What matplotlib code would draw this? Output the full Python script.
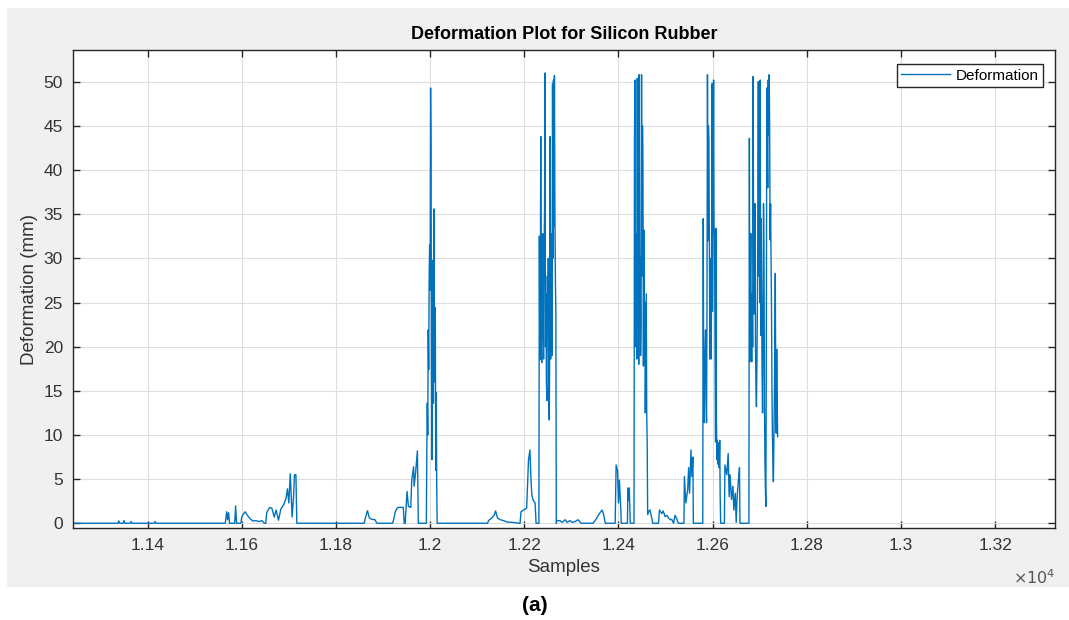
import numpy as np
import matplotlib
matplotlib.use("Agg")
import matplotlib.pyplot as plt

plt.rcParams['font.family'] = ['Liberation Sans', 'DejaVu Sans']

# sample index / deformation (mm)
base_x = [11242, 11337, 11339, 11341, 11348, 11350, 11352, 11363, 11365, 11367, 11414, 11416, 11418, 11563]
base_y = [0, 0, 0.26, 0, 0, 0.3, 0, 0, 0.2, 0, 0, 0.2, 0, 0]

pre116_x = [11565, 11568, 11570, 11572, 11574, 11585, 11587, 11589, 11598, 11600, 11603, 11607, 11612,
            11618, 11624, 11630, 11636, 11643, 11648, 11651, 11653, 11656, 11660, 11664, 11669, 11673,
            11678, 11683, 11689, 11694, 11697, 11700, 11703, 11707, 11710, 11712, 11715, 11717]
pre116_y = [0, 1.3, 0.4, 1.2, 0, 0, 1.96, 0, 0, 0.7, 1.0, 1.3, 0.9,
            0.5, 0.25, 0.3, 0.2, 0.3, 0, 0, 1.2, 1.5, 1.8, 1.7, 0.7, 1.5,
            0.35, 1.6, 2.1, 2.8, 3.9, 2.3, 5.6, 0.7, 3.0, 5.5, 5.5, 0]

pre120_x = [11860, 11862, 11867, 11871, 11876, 11883, 11887, 11920, 11922, 11926, 11930, 11933, 11943,
            11945, 11947, 11951, 11954, 11959, 11961, 11965, 11966, 11969, 11973, 11975, 11991]
pre120_y = [0, 0.5, 1.43, 0.6, 0.45, 0.4, 0, 0, 0.3, 1.3, 1.7, 1.8, 1.8,
            0, 0, 3.6, 1.9, 1.8, 4.9, 6.4, 4.2, 5.6, 8.2, 0, 0]

spike120_x = [11992, 11993, 11994, 11995, 11996, 11997, 11998, 11999, 12000, 12001, 12002, 12003, 12004,
              12005, 12006, 12007, 12008, 12009, 12010, 12011, 12012, 12013, 12014, 12015]
spike120_y = [0, 8.1, 13.6, 10, 21.9, 17.4, 28, 31.5, 26.4, 49.3, 42.3, 17.4, 7.2,
              22, 29.8, 13.6, 35.6, 16, 20.4, 24.4, 6.0, 14.8, 4.5, 0]

mid122_x = [12122, 12124, 12131, 12136, 12139, 12143, 12149, 12156, 12163, 12175, 12190, 12191,
            12193, 12198, 12205, 12209, 12212, 12214, 12216, 12219, 12223, 12225, 12231]
mid122_y = [0, 0.3, 0.6, 0.9, 1.4, 0.6, 0.4, 0.3, 0.15, 0.1, 0, 0,
            1.3, 1.5, 1.7, 7.2, 8.3, 5.2, 3.2, 2.6, 2.3, 0, 0]

burst1225_x = [12232, 12233, 12234, 12235, 12236, 12237, 12238, 12239, 12240, 12241, 12242, 12243,
               12244, 12245, 12246, 12247, 12248, 12249, 12250, 12251, 12252, 12253, 12254, 12255,
               12256, 12257, 12258, 12259, 12260, 12261, 12262, 12263, 12264, 12265, 12266, 12267, 12268]
burst1225_y = [32.5, 18.5, 25, 43.8, 20, 18.2, 30, 32.8, 22, 18.6, 30, 35.5,
               51.0, 20, 26, 16, 13.9, 28, 23, 30, 16, 11.7, 20, 43.8,
               18.6, 28, 32.8, 19, 49.8, 30, 50.2, 33.6, 50.7, 35.8, 28, 24, 0]

mid124_x = [12269, 12276, 12280, 12287, 12291, 12297, 12302, 12308, 12314, 12321, 12346, 12353,
            12357, 12361, 12365, 12368, 12372, 12392, 12393, 12395, 12398, 12400, 12402, 12405,
            12406, 12419, 12420, 12421, 12423, 12425, 12433]
mid124_y = [0.3, 0.3, 0.1, 0.4, 0.1, 0.3, 0.1, 0.2, 0.4, 0, 0, 0.5,
            0.9, 1.2, 1.5, 1.1, 0, 0, 0, 6.6, 6.0, 2.3, 4.9, 1.5,
            0, 0, 4.0, 2.6, 4.0, 0, 0]

burst1245_x = [12434, 12435, 12436, 12437, 12438, 12439, 12440, 12441, 12442, 12443, 12444, 12445,
               12446, 12447, 12448, 12449, 12450, 12451, 12452, 12453, 12454, 12455, 12456, 12457,
               12458, 12459, 12460, 12461, 12462]
burst1245_y = [43.4, 50.2, 20, 32.8, 24, 18.6, 50.4, 22, 34.5, 18, 50.8, 30,
               30.2, 19, 22.6, 50.8, 28, 45, 40, 17.8, 33.2, 18, 25, 12.5,
               20, 26, 12.5, 9, 1.0]

mid125_x = [12463, 12467, 12471, 12473, 12485, 12487, 12492, 12495, 12499, 12503, 12506, 12510,
            12513, 12517, 12520, 12524, 12527, 12539, 12540, 12543, 12547, 12549, 12551, 12554,
            12556, 12558, 12559, 12579]
mid125_y = [1.3, 1.5, 0.5, 0, 0, 1.5, 1.1, 1.4, 0.75, 0.9, 0.6, 0.4,
            0.45, 0, 0.9, 0.5, 0, 0, 5.3, 2.3, 3.8, 6.3, 3.4, 8.3,
            5.3, 7.5, 0, 0]

burst1259_x = [12580, 12581, 12582, 12583, 12584, 12585, 12586, 12587, 12588, 12589, 12590, 12591,
               12592, 12593, 12594, 12595, 12596, 12597, 12598, 12599, 12600, 12601, 12602, 12603,
               12604, 12605, 12606, 12607, 12608, 12609]
burst1259_y = [34.5, 15, 11.4, 18, 20, 21.9, 14, 11.4, 25, 50.8, 32, 45,
               43.4, 32.6, 18.6, 30, 25, 18.6, 32.6, 49.8, 24, 38, 50.2, 33,
               33.2, 20, 9.2, 33.4, 12, 7.2]

mid127_x = [12610, 12611, 12612, 12614, 12615, 12616, 12617, 12625, 12626, 12630, 12633, 12635,
            12637, 12640, 12643, 12645, 12648, 12650, 12652, 12655, 12657, 12658, 12677]
mid127_y = [9.4, 6.7, 9.1, 6.3, 9.4, 3, 0, 0, 6.6, 5.5, 7.9, 3,
            5.5, 2.7, 4.2, 1.5, 3.4, 0.1, 3, 5.1, 6.3, 0, 0]

burst1270_x = [12678, 12679, 12680, 12681, 12682, 12683, 12684, 12685, 12686, 12687, 12688, 12689,
               12690, 12691, 12692, 12693, 12694, 12695, 12696, 12697, 12698, 12699, 12700, 12701,
               12702, 12703, 12704, 12705, 12706, 12707, 12708, 12709, 12710, 12711, 12712, 12713,
               12714, 12715, 12716, 12717, 12718, 12719, 12720, 12721, 12722, 12723, 12724, 12725,
               12726, 12727, 12728, 12729, 12730, 12731, 12732, 12733, 12734, 12735, 12736, 12737, 12738]
burst1270_y = [43.6, 18.3, 28, 32.8, 22, 18.3, 26, 20, 50.6, 30, 23.7, 29,
               36.2, 20, 15.5, 13.2, 18, 24.5, 35, 50, 28, 32.8, 25, 50.2,
               21.3, 34.5, 26, 17, 12.5, 22, 36.2, 30.6, 14, 7.2, 4, 1.9,
               20, 49.3, 42.5, 38, 50.2, 44, 50.8, 45, 32.1, 36.2, 30, 24.2,
               15, 10, 6.8, 4.7, 9, 13.9, 20, 28.3, 15, 10.2, 19.7, 14, 9.8]

samples = np.concatenate([base_x, pre116_x, pre120_x, spike120_x, mid122_x, burst1225_x, mid124_x,
                          burst1245_x, mid125_x, burst1259_x, mid127_x, burst1270_x])
deform = np.concatenate([base_y, pre116_y, pre120_y, spike120_y, mid122_y, burst1225_y, mid124_y,
                         burst1245_y, mid125_y, burst1259_y, mid127_y, burst1270_y])

xticks = [11400, 11600, 11800, 12000, 12200, 12400, 12600, 12800, 13000, 13200]
yticks = list(range(0, 55, 5))

fig = plt.figure(figsize=(10.69, 6.2), dpi=100)
fig.patch.set_facecolor('white')
# grey matlab figure background
fig.patches.append(plt.Rectangle((0.0065, 0.0532), 0.9935, 0.934, transform=fig.transFigure,
                                 facecolor='#f0f0f0', edgecolor='none', zorder=-10))

ax = fig.add_axes([0.068, 0.1479, 0.9189, 0.7715])
ax.plot(samples, deform, color='#0072BD', linewidth=1.0, label='Deformation')

ax.set_xlim(11241, 13327)
ax.set_ylim(-0.57, 53.6)
ax.set_xticks(xticks)
ax.set_xticklabels(['%g' % (v / 1e4) for v in xticks])
ax.set_yticks(yticks)
ax.grid(True, color='#dedede', linewidth=0.8)
ax.set_axisbelow(True)

for s in ax.spines.values():
    s.set_color('#262626')
    s.set_linewidth(1.0)
ax.tick_params(direction='in', length=5, width=1, colors='#262626', labelsize=12.5,
               top=True, right=True, pad=7)
ax.tick_params(labelcolor='#333333')

ax.set_title('Deformation Plot for Silicon Rubber', fontsize=13, fontweight='bold', pad=8)
ax.set_xlabel('Samples', fontsize=13.5, color='#333333', labelpad=4)
ax.set_ylabel('Deformation (mm)', fontsize=13.5, color='#333333', labelpad=4)

ax.text(1.0, -0.083, r'$\times10^{4}$', transform=ax.transAxes, ha='right', va='top',
        fontsize=11.5, color='#555555')

leg = ax.legend(loc='upper right', bbox_to_anchor=(0.9878, 0.9707), borderaxespad=0,
                fancybox=False, framealpha=1, edgecolor='#262626', fontsize=11,
                handlelength=3.2, handletextpad=0.35, borderpad=0.3)
leg.get_frame().set_linewidth(1.0)

fig.text(0.5, 0.024, '(a)', ha='center', va='center', fontsize=15, fontweight='bold')

fig.savefig('out.png', dpi=100)
